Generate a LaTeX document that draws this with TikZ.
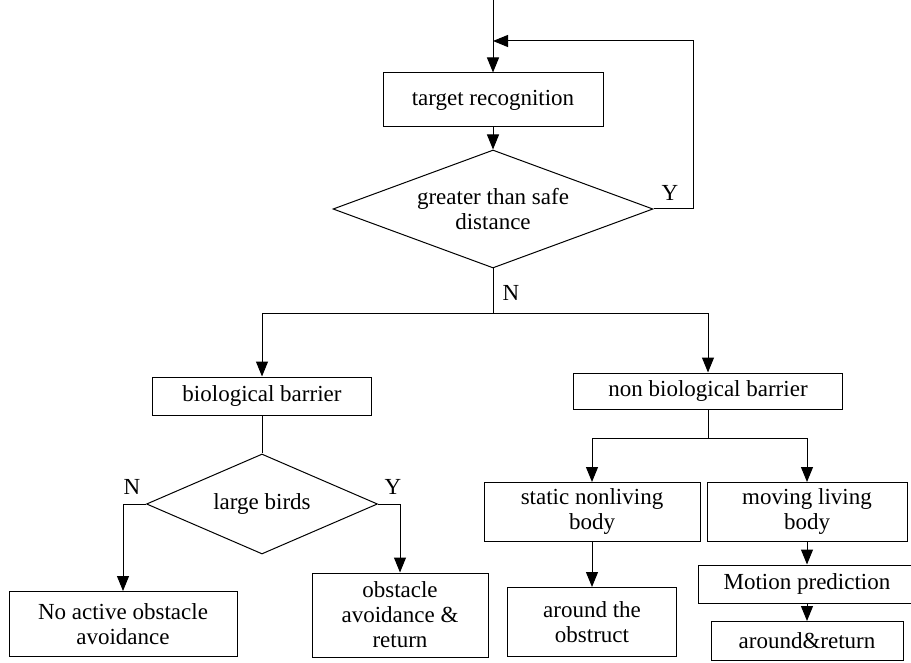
\documentclass[tikz,border=0pt]{standalone}
\usepackage{fontspec}
\setmainfont{Liberation Serif}
\usetikzlibrary{shapes.geometric,arrows.meta}
\tikzset{
  block/.style={draw, line width=1pt, inner sep=0pt, align=center,
    font=\fontsize{23}{25}\selectfont},
  decision/.style={block, diamond, shape aspect=2.7},
  lbl/.style={font=\fontsize{23}{25}\selectfont, inner sep=0pt},
  arr/.style={-{Triangle[length=15pt,width=12pt]}, line width=1pt},
  line/.style={line width=1pt},
}
\begin{document}
\begin{tikzpicture}[x=1pt, y={(0pt,-1pt)}]
    \useasboundingbox (0,0) rectangle (911,663);
    % nodes
    \coordinate (in) at (493,0);
    \coordinate (loop) at (493,41);
    \node [block, minimum width=220, minimum height=54] (target) at (493,100) {target recognition};
    \node [decision, minimum width=320, minimum height=118] (safe) at (493,209) {greater than safe\\distance};
    \node [block, minimum width=219, minimum height=38] (bio) at (262,396) {biological barrier};
    \node [decision, minimum width=231, minimum height=100] (birds) at (262,504) {large birds};
    \node [block, minimum width=228, minimum height=65] (noact) at (123,624) {No active obstacle\\avoidance};
    \node [block, minimum width=176, minimum height=84] (avoid) at (400,615) {obstacle\\avoidance \&\\return};
    \node [block, minimum width=269, minimum height=36] (nonbio) at (708,391) {non biological barrier};
    \node [block, minimum width=216, minimum height=59] (static) at (592,512) {static nonliving\\body};
    \node [block, minimum width=200, minimum height=59] (moving) at (807,512) {moving living\\body};
    \node [block, minimum width=169, minimum height=69] (obstruct) at (592,622) {around the\\obstruct};
    \node [block, minimum width=218, minimum height=38] (motion) at (807,584) {Motion prediction};
    \node [block, minimum width=192, minimum height=39] (ret) at (807,641) {around\&return};
    % labels
    \node [lbl] (y1) at (670,193) {Y};
    \node [lbl] (n1) at (511,293) {N};
    \node [lbl] (n2) at (132,487) {N};
    \node [lbl] (y2) at (393,487) {Y};
    % connectors
    \draw [arr] (in) -- (target);
    \draw [arr] (target) -- (safe);
    \draw [arr] (safe.east) -- ++(40,0) |- (loop);
    \draw [line] (safe.south) -- ++(0,45) coordinate (split);
    \draw [arr] (split) -| (bio);
    \draw [arr] (split) -| (nonbio);
    \draw [line] (bio) -- (birds);
    \draw [arr] (birds.west) -| (noact);
    \draw [arr] (birds.east) -| (avoid);
    \draw [line] (nonbio.south) -- ++(0,29) coordinate (fork);
    \draw [arr] (fork) -| (static);
    \draw [arr] (fork) -| (moving);
    \draw [arr] (static) -- (obstruct);
    \draw [arr] (moving) -- (motion);
    \draw [arr] (motion) -- (ret);
\end{tikzpicture}
\end{document}
